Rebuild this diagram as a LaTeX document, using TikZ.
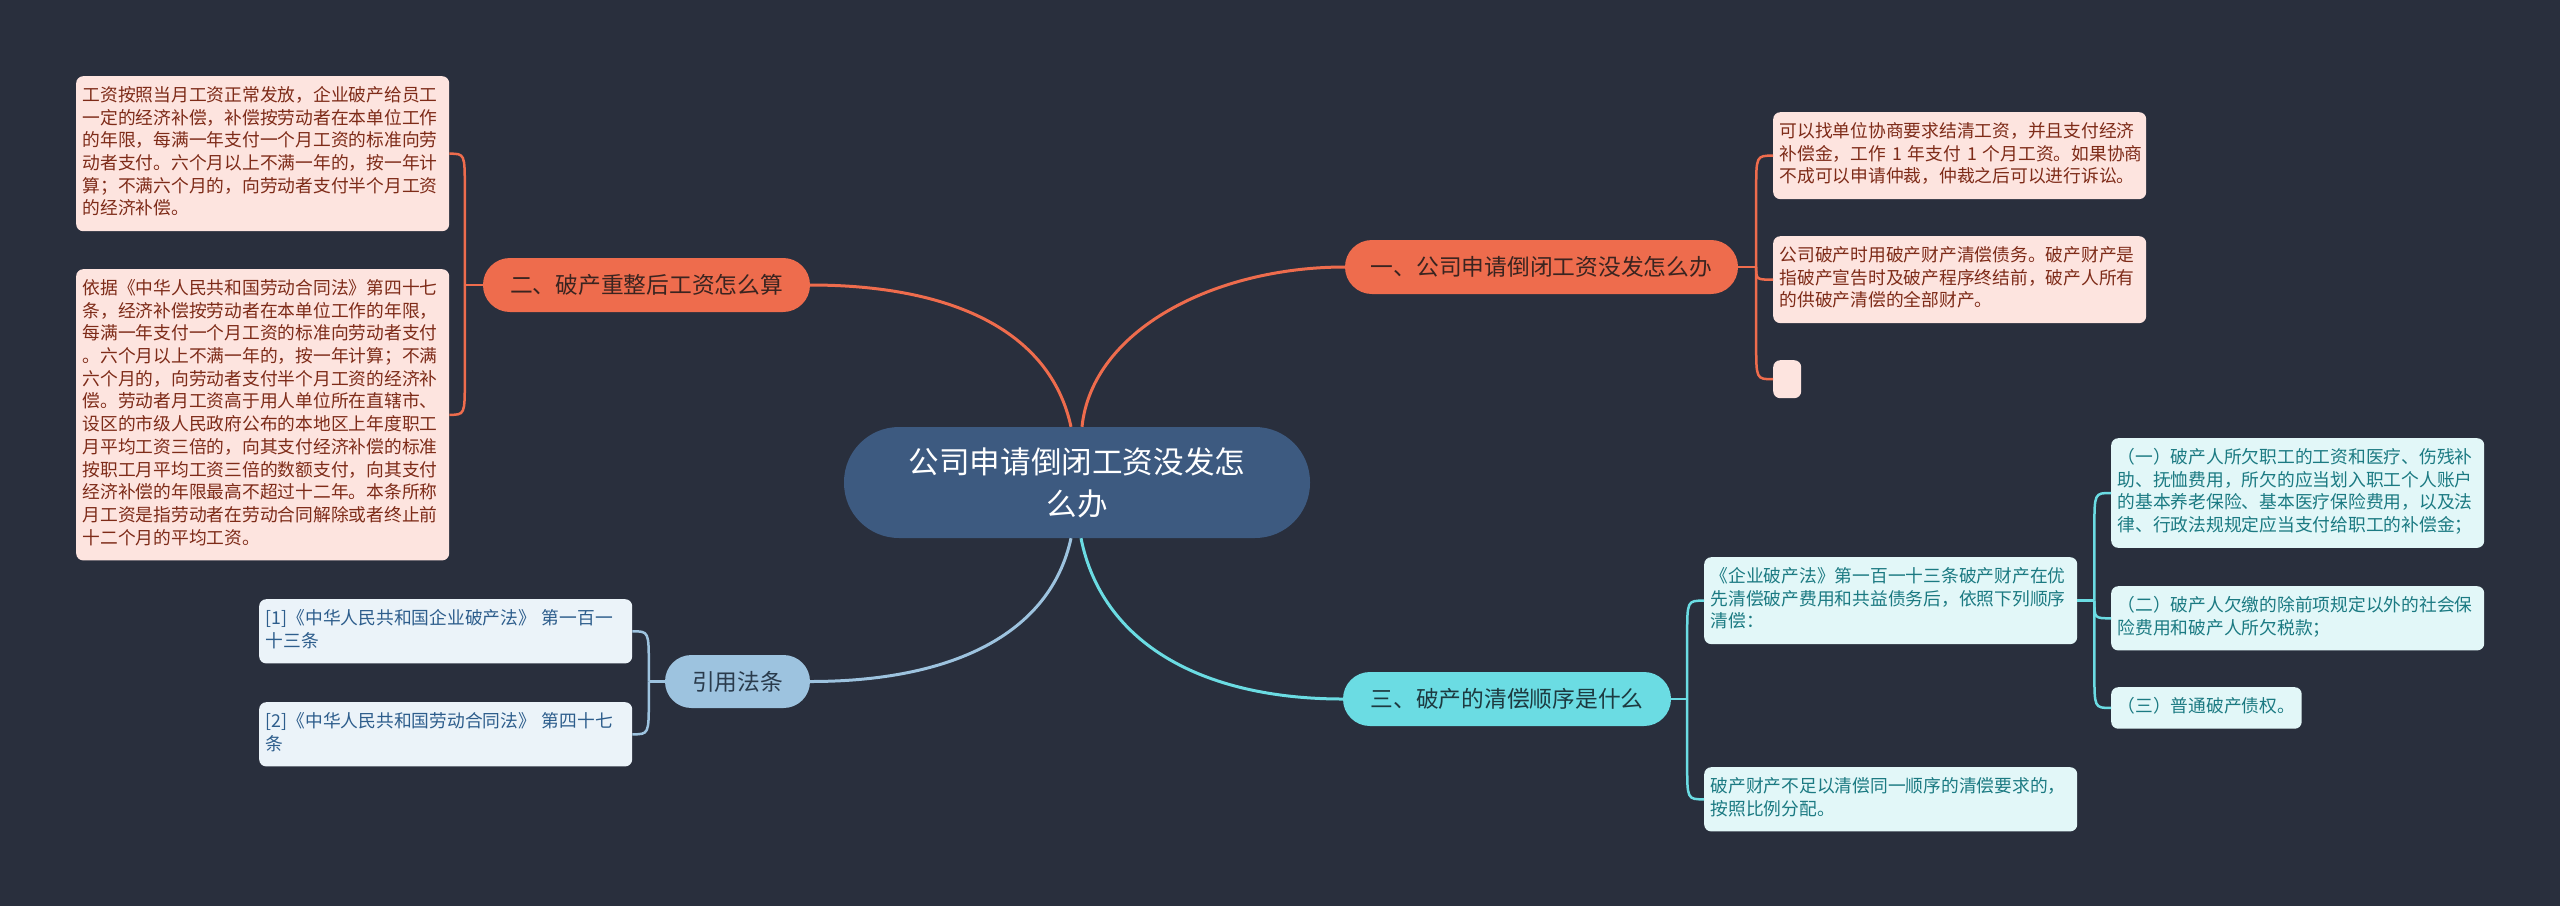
\documentclass[tikz,border=0pt]{standalone}
\usepackage{fontspec}
\newfontfamily\cjk{Noto Sans CJK SC}
\usetikzlibrary{calc}
\definecolor{bg}{HTML}{292F3D}
\definecolor{centerfill}{HTML}{3D5A80}
\definecolor{coralc}{HTML}{EE6C4D}
\definecolor{coraltext}{HTML}{3A2420}
\definecolor{pinkfill}{HTML}{FDE4DF}
\definecolor{pinktext}{HTML}{7E2B18}
\definecolor{cyanc}{HTML}{6BDCE3}
\definecolor{cyantext}{HTML}{1D3A40}
\definecolor{cyanfill}{HTML}{E2F7F8}
\definecolor{cyanleaftext}{HTML}{1B7A82}
\definecolor{citec}{HTML}{9DC3DF}
\definecolor{citetext}{HTML}{2A3B4C}
\definecolor{citefill}{HTML}{EBF3F9}
\definecolor{citeleaftext}{HTML}{2D5D8C}
\newcommand\mmbranch[4]{\draw[#1] (#2) -- ($(#2 |- #3)+(0,#4)$) .. controls (#2 |- #3) .. (#3);}
\begin{document}
\begin{tikzpicture}[x=1pt,y=-1pt,
  every node/.style={font=\cjk},
  leafbase/.style={anchor=north west, rounded corners=7pt, inner xsep=6.5pt, inner ysep=9.4pt, align=left, font={\cjk\fontsize{17.75pt}{22.7pt}\selectfont}},
  widebox/.style={text width=360pt},
  pinkleaf/.style={leafbase, fill=pinkfill, text=pinktext},
  cyanleaf/.style={leafbase, fill=cyanfill, text=cyanleaftext},
  citeleaf/.style={leafbase, fill=citefill, text=citeleaftext},
  topicbase/.style={rounded corners=26.9pt, minimum height=54pt, inner xsep=0pt, align=center, font={\cjk\fontsize{22.75pt}{27pt}\selectfont}},
  coraltopic/.style={topicbase, fill=coralc, text=coraltext},
  cyantopic/.style={topicbase, fill=cyanc, text=cyantext},
  citetopic/.style={topicbase, minimum height=53pt, rounded corners=26.4pt, fill=citec, text=citetext},
  mmcenter/.style={rounded corners=55pt, minimum width=466pt, minimum height=111pt, align=center, fill=centerfill, text=white, font={\cjk\fontsize{30.6pt}{42pt}\selectfont}},
  coralline/.style={draw=coralc, line width=3pt},
  cyanline/.style={draw=cyanc, line width=3pt},
  citeline/.style={draw=citec, line width=3pt},
  coralbr/.style={draw=coralc, line width=2.5pt},
  cyanbr/.style={draw=cyanc, line width=2.5pt},
  citebr/.style={draw=citec, line width=2.5pt}
]
\useasboundingbox (0,0) rectangle (2560,906);
\fill[bg] (0,0) rectangle (2560,906);

% central and main topics
\node[mmcenter] (c) at (1077,482.5) {公司申请倒闭工资没发怎\\么办};
\node[coraltopic, minimum width=393pt] (t1) at (1541.5,267) {一、公司申请倒闭工资没发怎么办};
\node[coraltopic, minimum width=327pt] (t2) at (646.5,285) {二、破产重整后工资怎么算};
\node[cyantopic, minimum width=328pt] (t3) at (1507,699) {三、破产的清偿顺序是什么};
\node[citetopic, minimum width=145pt] (t4) at (737.5,681.5) {引用法条};

% leaves
\node[pinkleaf, widebox] (l2a) at (76,76) {\strut 工资按照当月工资正常发放，企业破产给员工\\一定的经济补偿，补偿按劳动者在本单位工作\\的年限，每满一年支付一个月工资的标准向劳\\动者支付。六个月以上不满一年的，按一年计\\算；不满六个月的，向劳动者支付半个月工资\\的经济补偿。\strut};
\node[pinkleaf, widebox] (l2b) at (76,269) {\strut 依据《中华人民共和国劳动合同法》第四十七\\条，经济补偿按劳动者在本单位工作的年限，\\每满一年支付一个月工资的标准向劳动者支付\\。六个月以上不满一年的，按一年计算；不满\\六个月的，向劳动者支付半个月工资的经济补\\偿。劳动者月工资高于用人单位所在直辖市、\\设区的市级人民政府公布的本地区上年度职工\\月平均工资三倍的，向其支付经济补偿的标准\\按职工月平均工资三倍的数额支付，向其支付\\经济补偿的年限最高不超过十二年。本条所称\\月工资是指劳动者在劳动合同解除或者终止前\\十二个月的平均工资。\strut};
\node[pinkleaf, widebox] (l1a) at (1773,112) {\strut 可以找单位协商要求结清工资，并且支付经济\\\mbox{补偿金，工作~1~年支付~1~个月工资。如果协商}\\不成可以申请仲裁，仲裁之后可以进行诉讼。\strut};
\node[pinkleaf, widebox] (l1b) at (1773,236) {\strut 公司破产时用破产财产清偿债务。破产财产是\\指破产宣告时及破产程序终结前，破产人所有\\的供破产清偿的全部财产。\strut};
\node[pinkleaf, minimum width=28pt, minimum height=38pt, inner sep=0pt] (l1c) at (1773,360) {};
\node[cyanleaf, widebox] (l3a) at (1704,557) {\strut 《企业破产法》第一百一十三条破产财产在优\\先清偿破产费用和共益债务后，依照下列顺序\\清偿：\strut};
\node[cyanleaf, widebox] (l3b) at (1704,767) {\strut 破产财产不足以清偿同一顺序的清偿要求的，\\按照比例分配。\strut};
\node[cyanleaf, widebox] (l3a1) at (2111,438) {\strut （一）破产人所欠职工的工资和医疗、伤残补\\助、抚恤费用，所欠的应当划入职工个人账户\\的基本养老保险、基本医疗保险费用，以及法\\律、行政法规规定应当支付给职工的补偿金；\strut};
\node[cyanleaf, widebox] (l3a2) at (2111,586) {\strut （二）破产人欠缴的除前项规定以外的社会保\\险费用和破产人所欠税款；\strut};
\node[cyanleaf] (l3a3) at (2111,687) {\strut （三）普通破产债权。\strut};
\node[citeleaf, widebox] (c1) at (259,599) {\strut [1]《中华人民共和国企业破产法》 第一百一\\十三条\strut};
\node[citeleaf, widebox] (c2) at (259,702) {\strut [2]《中华人民共和国劳动合同法》 第四十七\\条\strut};

% attach points
\coordinate (cn1) at ($(c.north)+(-6,0)$);
\coordinate (cn2) at ($(c.north)+(5,0)$);
\coordinate (cs1) at ($(c.south)+(-6,0)$);
\coordinate (cs2) at ($(c.south)+(4,0)$);
\coordinate (j1) at ($(t1.east)+(18,0)$);
\coordinate (j2) at ($(t2.west)+(-18,0)$);
\coordinate (j3) at ($(t3.east)+(16,0)$);
\coordinate (j4) at ($(t4.west)+(-16,0)$);
\coordinate (j5) at ($(l3a.east)+(17,0)$);

% main connectors
\draw[coralline] (t2.east) .. controls +(140,0) and +(-21,-97) .. (cn1);
\draw[coralline] (t1.west) .. controls +(-130,0) and +(10,-97) .. (cn2);
\draw[citeline] (t4.east) .. controls +(140,0) and +(-21,97) .. (cs1);
\draw[cyanline] (t3.west) .. controls +(-141,0) and +(21,105) .. (cs2);

% stubs
\draw[coralbr] (t2.west) -- (j2);
\draw[coralbr] (t1.east) -- (j1);
\draw[cyanbr] (t3.east) -- (j3);
\draw[citebr] (t4.west) -- (j4);
\draw[cyanbr] (l3a.east) -- (j5);

% branches
\mmbranch{coralbr}{j2}{l2a.east}{35}
\mmbranch{coralbr}{j2}{l2b.east}{-35}
\mmbranch{coralbr}{j1}{l1a.west}{35}
\draw[coralbr] (j1) .. controls (j1 |- l1b.west) .. (l1b.west);
\mmbranch{coralbr}{j1}{l1c.west}{-35}
\mmbranch{cyanbr}{j3}{l3a.west}{35}
\mmbranch{cyanbr}{j3}{l3b.west}{-35}
\mmbranch{cyanbr}{j5}{l3a1.west}{35}
\draw[cyanbr] (j5) .. controls (j5 |- l3a2.west) .. (l3a2.west);
\mmbranch{cyanbr}{j5}{l3a3.west}{-35}
\mmbranch{citebr}{j4}{c1.east}{35}
\mmbranch{citebr}{j4}{c2.east}{-35}
\end{tikzpicture}
\end{document}
